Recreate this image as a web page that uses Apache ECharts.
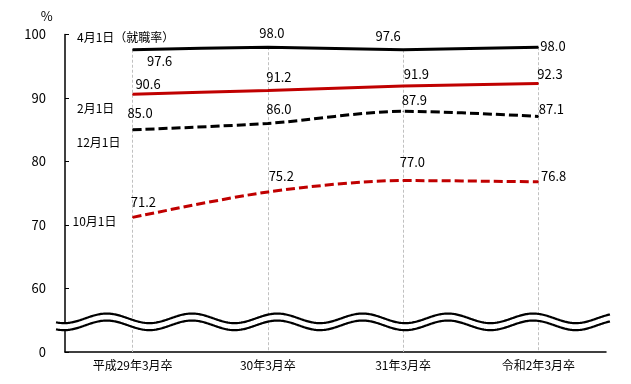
<!DOCTYPE html>
<html><head><meta charset="utf-8">
<script src="https://cdn.jsdelivr.net/npm/echarts@6/dist/echarts.min.js"></script>
<style>html,body{margin:0;padding:0;background:#fff}#c{width:631px;height:384px}</style>
</head><body><div id="c"></div>
<script>
// ---- data ----
const categories = ['平成29年3月卒', '30年3月卒', '31年3月卒', '令和2年3月卒'];
const seriesNames = ['4月1日（就職率）', '2月1日', '12月1日', '10月1日'];
const apr = [97.6, 98.0, 97.6, 98.0];
const feb = [90.6, 91.2, 91.9, 92.3];
const dec = [85.0, 86.0, 87.9, 87.1];
const oct = [71.2, 75.2, 77.0, 76.8];
// axis is broken: the bottom value 50 is shown as 0
const yTicks = [50, 60, 70, 80, 90, 100];
const yTickLabels = ['0', '60', '70', '80', '90', '100'];

// ---- styling (label offsets in px) ----
const FONT = "'Noto Sans CJK JP', 'Noto Sans', sans-serif";
const aprOff = [[27, 11], [4, -14], [-15, -14], [14.6, -1.5]];
const febOff = [[15.4, -10.4], [11, -13], [13.2, -12.2], [11.6, -9.2]];
const decOff = [[7.4, -17], [11, -14.6], [11.2, -11.3], [13, -7]];
const octOff = [[10.7, -15.4], [13.4, -15.7], [9.2, -18.5], [15.3, -5.6]];

function mk(name, vals, color, dashed, offs, extra) {
  return Object.assign({
    name: name, type: 'line', smooth: dashed ? 0.3 : 0.12,
    symbol: 'circle', symbolSize: 1,
    itemStyle: { color: color },
    lineStyle: { color: color, width: 3, type: dashed ? [9, 4] : 'solid' },
    label: { show: true, position: 'inside', color: '#000', fontSize: 13, fontFamily: FONT,
             formatter: p => Number(p.value).toFixed(1) },
    emphasis: { disabled: true },
    data: vals.map((v, i) => ({ value: v, label: { offset: offs[i] } })),
    z: 3
  }, extra || {});
}

const chart = echarts.init(document.getElementById('c'));

const yMin = yTicks[0], yMax = yTicks[yTicks.length - 1];
const option = {
  animation: false,
  backgroundColor: '#fff',
  grid: { left: 65, right: 25, top: 34.5, bottom: 32 },
  xAxis: {
    type: 'category', data: categories, boundaryGap: true,
    axisLine: { lineStyle: { color: '#000', width: 1.5 } },
    axisTick: { show: false },
    axisLabel: { color: '#000', fontSize: 12, fontFamily: FONT, margin: 7 },
    splitLine: { show: false }
  },
  yAxis: {
    type: 'value', min: yMin, max: yMax, interval: 10,
    axisLine: { show: true, lineStyle: { color: '#000', width: 1.5 } },
    axisTick: { show: true, inside: true, length: 4, lineStyle: { color: '#000' } },
    axisLabel: { color: '#000', fontSize: 13, fontFamily: FONT, margin: 19,
                 formatter: v => yTickLabels[yTicks.indexOf(v)] },
    splitLine: { show: false }
  },
  series: [
    mk(seriesNames[0], apr, '#000000', false, aprOff, {
      markLine: {
        silent: true, symbol: 'none', z: 1, label: { show: false },
        lineStyle: { color: '#c0c0c0', type: [3, 2], width: 1 },
        data: categories.map((c, i) => [{ xAxis: c, yAxis: apr[i] }, { xAxis: c, yAxis: yMin }])
      }
    }),
    mk(seriesNames[1], feb, '#c00000', false, febOff),
    mk(seriesNames[2], dec, '#000000', true, decOff),
    mk(seriesNames[3], oct, '#c00000', true, octOff)
  ]
};
chart.setOption(option);

// ---- decorations: series names, unit, axis break ----
const g = [];
const nameLabels = [
  { t: seriesNames[0], x: 77, y: 37.5 },
  { t: seriesNames[1], x: 77, y: 108.8 },
  { t: seriesNames[2], x: 76.5, y: 142.2 },
  { t: seriesNames[3], x: 72.5, y: 221.7 }
];
nameLabels.forEach(n => g.push({ type: 'text', x: n.x, y: n.y, z: 50,
  style: { text: n.t, fill: '#000', font: '12px ' + FONT, verticalAlign: 'middle', align: 'left' } }));
g.push({ type: 'text', x: 46.7, y: 16, z: 50,
  style: { text: '%', fill: '#000', font: '13px ' + FONT, verticalAlign: 'middle', align: 'center' } });

// wave break, anchored on the value axis
const waveC = chart.convertToPixel({ yAxisIndex: 0 }, 55.3);
const gap = 7, amp = 4.8, period = 85.3, x0 = 106.7;
const wTop = [], wBot = [];
for (let x = 56; x <= 610; x += 1) {
  const c = Math.cos(2 * Math.PI * (x - x0) / period);
  wTop.push([x, waveC - amp * c]);
  wBot.push([x, waveC + gap - amp * c]);
}
g.push({ type: 'polygon', z: 60, shape: { points: wTop.concat(wBot.slice().reverse()) },
  style: { fill: '#fff', stroke: null } });
g.push({ type: 'polyline', z: 61, shape: { points: wTop }, style: { stroke: '#000', lineWidth: 2.2, fill: null } });
g.push({ type: 'polyline', z: 61, shape: { points: wBot }, style: { stroke: '#000', lineWidth: 2.2, fill: null } });
chart.setOption({ graphic: g });
</script></body></html>
